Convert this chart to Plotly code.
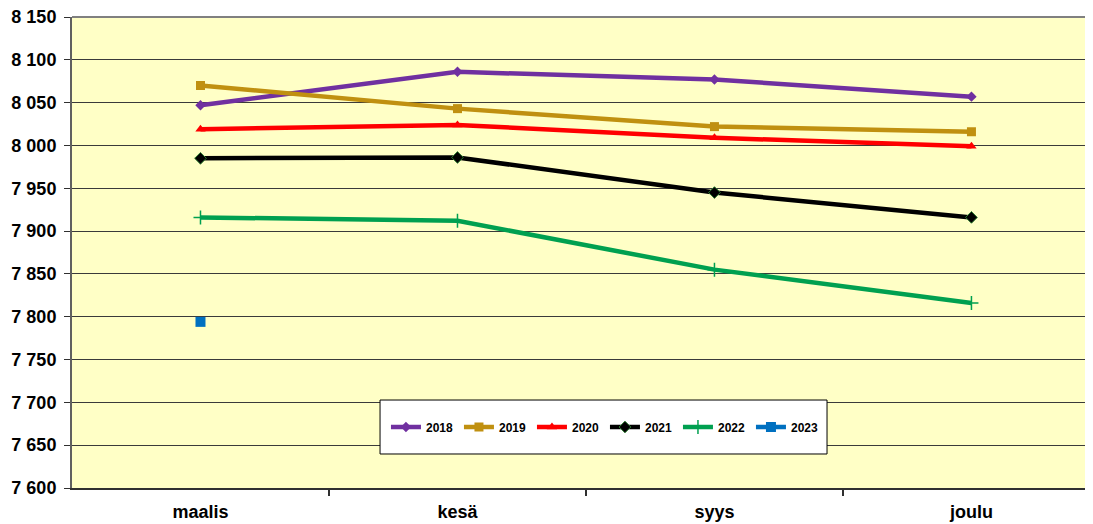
import plotly.graph_objects as go

categories = ["maalis", "kesä", "syys", "joulu"]
y2018 = [8047, 8086, 8077, 8057]
y2019 = [8070, 8043, 8022, 8016]
y2020 = [8019, 8024, 8009, 7999]
y2021 = [7985, 7986, 7945, 7916]
y2022 = [7916, 7912, 7855, 7816]
y2023 = [7794]
y_ticks = [7600, 7650, 7700, 7750, 7800, 7850, 7900, 7950, 8000, 8050, 8100, 8150]

series = [
    ("2018", y2018, "#7030A0", dict(symbol="diamond", size=8, color="#7030A0")),
    ("2019", y2019, "#C09010", dict(symbol="square", size=9, color="#C09010")),
    ("2020", y2020, "#FF0000", dict(symbol="triangle-up", size=9, color="#FF0000")),
    ("2021", y2021, "#000000", dict(symbol="diamond", size=9, color="#000000",
                                     line=dict(color="#2E7D32", width=1))),
    ("2022", y2022, "#00A050", dict(symbol="cross-thin", size=10, color="#00A050",
                                     line=dict(color="#00A050", width=1.5))),
    ("2023", y2023, "#0070C0", dict(symbol="square", size=10, color="#0070C0")),
]

xs = list(range(len(categories)))
fig = go.Figure()
for name, vals, col, mk in series:
    fig.add_trace(go.Scatter(
        x=xs[:len(vals)], y=vals, name=name, mode="lines+markers",
        line=dict(color=col, width=4.5), marker=mk,
    ))

fig.update_layout(
    width=1085, height=516,
    margin=dict(l=64, r=0, t=9, b=36),
    paper_bgcolor="white", plot_bgcolor="#FFFFC6",
    separators=", ",
    font=dict(family="Liberation Sans, Arial, sans-serif", color="#000000"),
    showlegend=True,
    legend=dict(
        orientation="h", x=0.522, y=0.1295, xanchor="center", yanchor="middle",
        bgcolor="rgba(0,0,0,0)", borderwidth=0,
        font=dict(size=12, family="Liberation Sans, Arial, sans-serif", weight="bold"),
        itemwidth=30, entrywidth=28,
    ),
    xaxis=dict(
        range=[-0.5, 3.473], tickvals=xs, ticktext=categories,
        showgrid=False, zeroline=False, ticks="",
        showline=True, linecolor="#303030", linewidth=2,
        tickfont=dict(size=18, weight="bold"), ticklabelstandoff=6,
        minor=dict(tickvals=[0.5, 1.5, 2.5], ticks="outside", ticklen=6,
                   tickcolor="#303030", tickwidth=1.5, showgrid=False),
    ),
    yaxis=dict(
        range=[7600, 8150], tickvals=y_ticks, tickformat=",d",
        showgrid=True, gridcolor="#3a3a3a", gridwidth=1.2, zeroline=False,
        showline=True, linecolor="#606060", linewidth=2,
        ticks="outside", ticklen=6, tickcolor="#303030",
        tickfont=dict(size=18, weight="bold"), ticklabeloverflow="allow",
        ticklabelstandoff=4,
    ),
)
fig.add_shape(type="line", xref="paper", yref="paper", x0=0, x1=1, y0=1, y1=1,
              line=dict(color="#808080", width=2))
fig.add_shape(type="rect", xref="paper", yref="paper", x0=0.3017, x1=0.7395,
              y0=0.0722, y1=0.1868, fillcolor="white", layer="above",
              line=dict(color="#000000", width=1))

fig.write_html("out.html")
